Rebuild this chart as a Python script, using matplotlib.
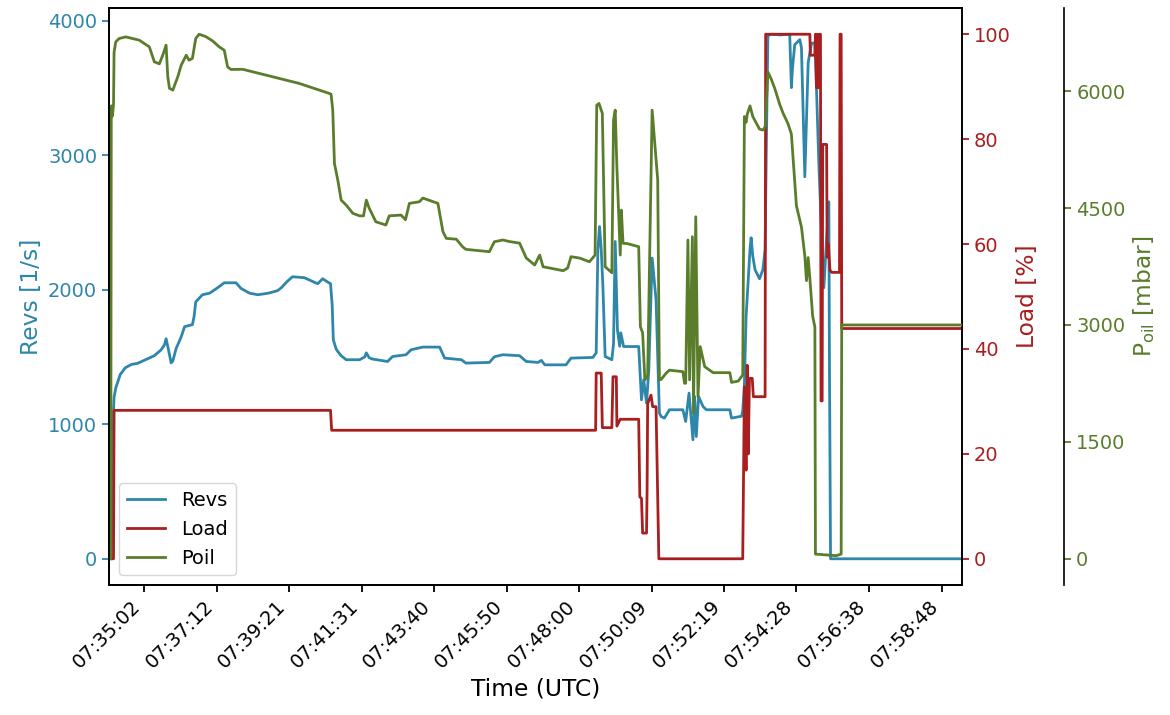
import matplotlib
matplotlib.use("Agg")
import matplotlib.pyplot as plt
import numpy as np

# ---- data (seconds since 07:33:59 UTC) ----
start_label = "07:33:59"

t_revs = [0, 4, 7, 9, 12, 20, 29, 40, 51, 65, 81, 93, 99, 102, 106, 111, 114, 120, 129, 135, 143, 149,
          152, 155, 167, 180, 194, 206, 227, 236, 251, 266, 285, 301, 308, 318, 328, 349, 373, 382, 390,
          396, 399, 401, 406, 409, 415, 424, 448, 457, 460, 465, 471, 498, 507, 531, 540, 561, 591, 597,
          600, 630, 638, 680, 689, 704, 734, 746, 767, 773, 779, 817, 826, 865, 871, 874, 877, 880, 883,
          887, 899, 902, 905, 909, 913, 915, 920, 947, 952, 956, 961, 965, 971, 978, 984, 987, 993, 1002,
          1026, 1031, 1037, 1044, 1047, 1050, 1054, 1062, 1068, 1110, 1113, 1131, 1133, 1136, 1139, 1146,
          1148, 1151, 1155, 1163, 1169, 1173, 1175, 1178, 1184, 1200, 1217, 1220, 1222, 1226, 1235, 1238,
          1244, 1250, 1256, 1262, 1265, 1269, 1274, 1278, 1282, 1287, 1288, 1290, 1525]
revs = [0, 0, 1000, 1200, 1270, 1370, 1420, 1445, 1453, 1480, 1510, 1553, 1590, 1636, 1560, 1457, 1470,
        1564, 1650, 1725, 1735, 1740, 1800, 1910, 1963, 1975, 2015, 2052, 2052, 2010, 1975, 1963, 1975,
        1993, 2015, 2060, 2097, 2090, 2045, 2082, 2060, 2045, 1883, 1628, 1560, 1541, 1510, 1480, 1480,
        1500, 1531, 1495, 1485, 1467, 1504, 1517, 1554, 1574, 1574, 1520, 1492, 1480, 1455, 1460, 1502,
        1517, 1510, 1467, 1460, 1475, 1442, 1442, 1492, 1497, 1531, 2300, 2470, 2300, 2025, 1504, 1480,
        1600, 2359, 1703, 1580, 1680, 1578, 1578, 1182, 1331, 1158, 1400, 2236, 1926, 1083, 1058, 1046,
        1108, 1108, 1021, 1232, 885, 1207, 909, 1207, 1132, 1108, 1108, 1046, 1060, 1100, 1300, 1800,
        2300, 2387, 2250, 2149, 2082, 2149, 2300, 3000, 3890, 3900, 3895, 3900, 3503, 3650, 3822, 3860,
        3800, 2840, 3688, 3834, 3834, 3480, 2945, 2416, 2015, 2308, 2654, 1500, 0, 0]

t_load = [0, 8, 9, 396, 398, 870, 871, 880, 882, 899, 901, 907, 908, 914, 947, 949, 952, 954, 961, 962,
          963, 969, 972, 978, 983, 1133, 1136, 1139, 1141, 1143, 1145, 1150, 1152, 1173, 1174, 1253,
          1254, 1262, 1263, 1265, 1266, 1268, 1270, 1272, 1273, 1275, 1276, 1283, 1284, 1286, 1289,
          1292, 1306, 1307, 1309, 1310, 1525]
load = [0, 0, 28.3, 28.3, 24.5, 24.5, 35.4, 35.4, 25.0, 25.0, 34.7, 34.7, 25.3, 26.6, 26.6, 11.8, 11.5,
        4.9, 4.9, 13.1, 29.6, 31.2, 29.0, 29.0, 0, 0, 32.8, 16.9, 36.9, 20.0, 34.4, 34.4, 30.9, 30.9,
        100, 100, 96, 96, 100, 89.8, 100, 89.8, 100, 100, 30.1, 30.1, 79, 79, 57.5, 60, 55, 54.6, 54.6,
        100, 100, 43.9, 43.9]

t_poil = [0, 3, 4, 6, 8, 9, 12, 18, 30, 54, 72, 81, 90, 96, 102, 105, 108, 114, 123, 129, 138, 143, 149,
          155, 161, 173, 185, 197, 206, 212, 218, 239, 281, 340, 394, 397, 400, 403, 409, 415, 424, 436,
          448, 455, 460, 465, 477, 495, 501, 522, 530, 537, 555, 561, 588, 597, 603, 621, 632, 638, 680,
          689, 704, 716, 734, 746, 761, 770, 776, 788, 812, 820, 826, 841, 859, 869, 872, 876, 882, 887,
          899, 902, 905, 908, 914, 916, 919, 926, 947, 950, 954, 958, 963, 971, 981, 984, 987, 996, 1002,
          1026, 1029, 1031, 1035, 1038, 1043, 1045, 1049, 1053, 1057, 1065, 1080, 1110, 1113, 1125,
          1133, 1136, 1139, 1141, 1146, 1151, 1163, 1169, 1173, 1178, 1184, 1190, 1199, 1205, 1214,
          1220, 1225, 1229, 1235, 1238, 1244, 1247, 1250, 1253, 1258, 1262, 1263, 1300, 1309, 1310, 1525]
poil = [0, 0, 5811, 5680, 5830, 6500, 6632, 6675, 6696, 6654, 6568, 6376, 6350, 6461, 6590, 6186, 6037,
        6013, 6186, 6333, 6461, 6397, 6420, 6675, 6730, 6700, 6645, 6568, 6525, 6311, 6278, 6280, 6205,
        6099, 5970, 5960, 5756, 5072, 4859, 4602, 4538, 4432, 4400, 4400, 4602, 4500, 4324, 4282, 4400,
        4410, 4350, 4560, 4581, 4628, 4560, 4196, 4111, 4100, 4004, 3970, 3940, 4068, 4090, 4070, 4050,
        3859, 3769, 3897, 3747, 3730, 3696, 3730, 3876, 3859, 3811, 3897, 5820, 5842, 5714, 3747, 3670,
        5628, 5756, 5029, 3897, 4474, 4047, 4045, 4004, 2978, 2900, 2295, 2350, 5756, 4859, 2295, 2300,
        2381, 2420, 2401, 2252, 2252, 4090, 2295, 4132, 1868, 4388, 2081, 2722, 2465, 2388, 2388, 2263,
        2280, 2359, 5674, 5600, 5700, 5811, 5674, 5513, 5500, 5540, 6246, 6154, 6040, 5833, 5719, 5582,
        5449, 4941, 4529, 4346, 4256, 3888, 3568, 3865, 3600, 3115, 2974, 60, 40, 60, 3000, 3000]

tick_labels = ["07:35:02", "07:37:12", "07:39:21", "07:41:31", "07:43:40", "07:45:50",
               "07:48:00", "07:50:09", "07:52:19", "07:54:28", "07:56:38", "07:58:48"]
revs_ticks = [0, 1000, 2000, 3000, 4000]
load_ticks = [0, 20, 40, 60, 80, 100]
poil_ticks = [0, 1500, 3000, 4500, 6000]


def to_sec(s):
    h, m, x = (int(v) for v in s.split(":"))
    return h * 3600 + m * 60 + x


t0 = to_sec(start_label)
tick_pos = [to_sec(s) - t0 for s in tick_labels]

c_revs = "#2E86AB"
c_load = "#A91E1E"
c_poil = "#5A7D2C"

plt.rcParams["font.size"] = 14
plt.rcParams["axes.labelsize"] = 16.8

fig = plt.figure(figsize=(11.7, 7.15), dpi=100)
ax = fig.add_subplot(111)
fig.subplots_adjust(left=0.0932, right=0.8222, bottom=0.1818, top=0.9888)
ax2 = ax.twinx()
ax3 = ax.twinx()
ax3.spines["right"].set_position(("axes", 1.12))

l1, = ax.plot(t_revs, revs, color=c_revs, lw=2, label="Revs")
l2, = ax2.plot(t_load, load, color=c_load, lw=2, label="Load")
l3, = ax3.plot(t_poil, poil, color=c_poil, lw=2, label="Poil")

ax.set_xlim(0, 1525)
ax.set_xticks(tick_pos)
ax.set_xticklabels(tick_labels, rotation=45, ha="right")
ax.set_xlabel("Time (UTC)")

ax.set_yticks(revs_ticks)
ax2.set_yticks(load_ticks)
ax3.set_yticks(poil_ticks)

ax.set_ylabel("Revs [1/s]", color=c_revs)
ax2.set_ylabel("Load [%]", color=c_load)
ax3.set_ylabel(r"P$_{\mathrm{oil}}$ [mbar]", color=c_poil)

for a in (ax, ax2, ax3):
    a.tick_params(length=5, width=1.3)
    for sp in a.spines.values():
        sp.set_linewidth(1.2)
ax.tick_params(axis="y", colors=c_revs)
ax2.tick_params(axis="y", colors=c_load)
ax3.tick_params(axis="y", colors=c_poil)
ax.tick_params(axis="x", colors="black")

ax3.legend(handles=[l1, l2, l3], loc="lower left", fontsize=14)

fig.savefig("out.png", dpi=100)
